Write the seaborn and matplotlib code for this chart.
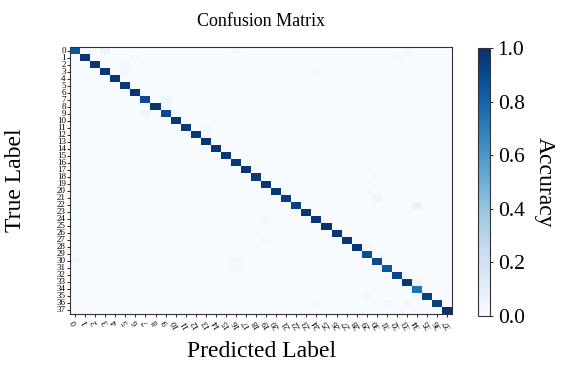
import numpy as np
import pandas as pd
import matplotlib
matplotlib.use("Agg")
import matplotlib.pyplot as plt
import seaborn as sns

classes = [str(i) for i in range(38)]
diag_acc = [0.86, 0.97, 0.97, 0.97, 0.98, 0.97, 0.98, 0.90, 0.98, 0.91,
            0.97, 0.96, 0.97, 0.98, 0.98, 0.97, 0.97, 0.97, 0.96, 0.97,
            0.97, 0.95, 0.94, 0.97, 0.97, 0.99, 0.97, 0.97, 0.97, 0.88,
            0.90, 0.85, 0.92, 0.97, 0.75, 0.94, 0.93, 0.99]
off_rows = [0, 0, 0, 1, 2, 3, 3, 7, 9, 11, 1, 18, 21, 22, 24, 27, 28, 29, 30, 30, 31, 33, 35, 36, 36, 36, 20]
off_cols = [3, 16, 33, 6, 5, 5, 24, 9, 7, 13, 32, 30, 30, 34, 19, 19, 29, 30, 16, 0, 16, 34, 29, 24, 31, 33, 29]
off_vals = [0.06, 0.02, 0.02, 0.02, 0.02, 0.02, 0.02, 0.05, 0.05, 0.02, 0.02, 0.02, 0.05, 0.08, 0.02, 0.02, 0.04, 0.02, 0.02, 0.02, 0.02, 0.06, 0.03, 0.02, 0.03, 0.02, 0.02]

cm = np.zeros((len(classes), len(classes)))
cm[np.arange(len(classes)), np.arange(len(classes))] = diag_acc
cm[off_rows, off_cols] = off_vals
df = pd.DataFrame(cm, index=classes, columns=classes)

plt.rcParams['font.family'] = ['Liberation Serif', 'DejaVu Serif']

fig = plt.figure(figsize=(5.67, 3.67), dpi=100)
ax = fig.add_axes([0.1235, 0.1444, 0.674, 0.7275])
cax = fig.add_axes([0.843, 0.139, 0.0212, 0.730])

sns.heatmap(df, ax=ax, cbar_ax=cax, cmap="Blues", vmin=0, vmax=1,
            xticklabels=classes, yticklabels=classes)

for s in ax.spines.values():
    s.set_visible(True)
    s.set_color('#333333')
    s.set_linewidth(0.8)

ax.tick_params(axis='both', length=2, width=0.6, pad=1)
ax.set_xticklabels(classes, rotation=120, fontsize=6.5)
ax.set_yticklabels(classes, rotation=0, fontsize=6.5)

ax.set_title("Confusion Matrix", fontsize=13, pad=15)
ax.set_xlabel("Predicted Label", fontsize=17, labelpad=8)
ax.set_ylabel("True Label", fontsize=17)
ax.yaxis.set_label_coords(-0.115, 0.5)

cbar = ax.collections[0].colorbar
cbar.outline.set_visible(True)
cbar.outline.set_edgecolor('#333333')
cbar.outline.set_linewidth(0.8)
cbar.set_ticks([0.0, 0.2, 0.4, 0.6, 0.8, 1.0])
cbar.ax.tick_params(labelsize=15.5, length=2, width=0.6)
cbar.set_label("Accuracy", fontsize=17, rotation=270, labelpad=22)

fig.savefig("out.png", dpi=100)
